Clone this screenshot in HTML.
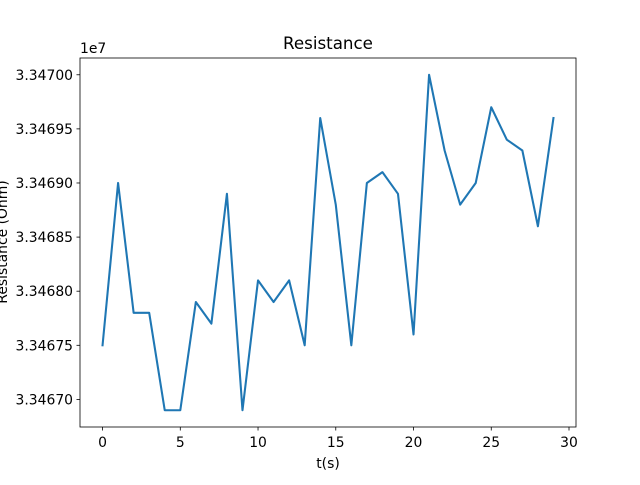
<!DOCTYPE html>
<html><head><meta charset="utf-8"><style>
body{margin:0;background:#fff;}
svg text{font-family:"DejaVu Sans","Liberation Sans",sans-serif;fill:#000;}
</style></head><body>
<svg width="640" height="480" viewBox="0 0 640 480">
<rect width="640" height="480" fill="#fff"/>
<g id="g"></g>
</svg>
<script>
const tValues=[0,1,2,3,4,5,6,7,8,9,10,11,12,13,14,15,16,17,18,19,20,21,22,23,24,25,26,27,28,29];
const resistance=[33467500,33469000,33467800,33467800,33466900,33466900,33467900,33467700,33468900,33466900,33468100,33467900,33468100,33467500,33469600,33468800,33467500,33469000,33469100,33468900,33467600,33470000,33469300,33468800,33469000,33469700,33469400,33469300,33468600,33469600];
const xTicks=[0,5,10,15,20,25,30];
const yTicks=[33467000,33467500,33468000,33468500,33469000,33469500,33470000];
const yTickLabels=["3.34670","3.34675","3.34680","3.34685","3.34690","3.34695","3.34700"];
const L=80,R=576,T=58,B=427;
const xmin=-1.45,xmax=30.45;
const ymin0=Math.min(...resistance),ymax0=Math.max(...resistance),pad=(ymax0-ymin0)*0.05;
const ymin=ymin0-pad,ymax=ymax0+pad;
const X=v=>L+(v-xmin)/(xmax-xmin)*(R-L);
const Y=v=>B-(v-ymin)/(ymax-ymin)*(B-T);
const g=document.getElementById('g');
const NS='http://www.w3.org/2000/svg';
function mk(tag,attrs,name,text){const e=document.createElementNS(NS,tag);for(const k in attrs)e.setAttribute(k,attrs[k]);


if(text!==undefined)e.textContent=text;g.appendChild(e);return e;}
let d=tValues.map((t,i)=>(i?'L':'M')+X(t).toFixed(2)+','+Y(resistance[i]).toFixed(2)).join('');
mk('path',{d:d,fill:'none',stroke:'#1f77b4','stroke-width':2.08,'stroke-linejoin':'round','stroke-linecap':'square'},'resistance-line');
mk('rect',{x:L,y:T,width:R-L,height:B-T,fill:'none',stroke:'#000','stroke-width':0.8},'plot-frame');
xTicks.forEach(v=>{const x=X(v);
mk('line',{x1:x,x2:x,y1:B,y2:B+3.5,stroke:'#000','stroke-width':0.8},'x-tick');
mk('text',{x:x,y:B+20,'text-anchor':'middle','font-size':13.9},'x-tick-label',String(v));});
yTicks.forEach((v,i)=>{const y=Y(v);
mk('line',{x1:L-3.5,x2:L,y1:y,y2:y,stroke:'#000','stroke-width':0.8},'y-tick');
mk('text',{x:L-7,y:y+5,'text-anchor':'end','font-size':13.9},'y-tick-label',yTickLabels[i]);});
mk('text',{x:L,y:T-5,'font-size':13.9},'y-offset-label','1e7');
mk('text',{x:328,y:49,'text-anchor':'middle','font-size':16.7},'chart-title','Resistance');
mk('text',{x:328,y:468,'text-anchor':'middle','font-size':13.9},'x-axis-title','t(s)');
mk('text',{x:0,y:0,'text-anchor':'middle','font-size':13.9,transform:'translate(7,242) rotate(-90)'},'y-axis-title','Resistance (Ohm)');
</script>
</body></html>
